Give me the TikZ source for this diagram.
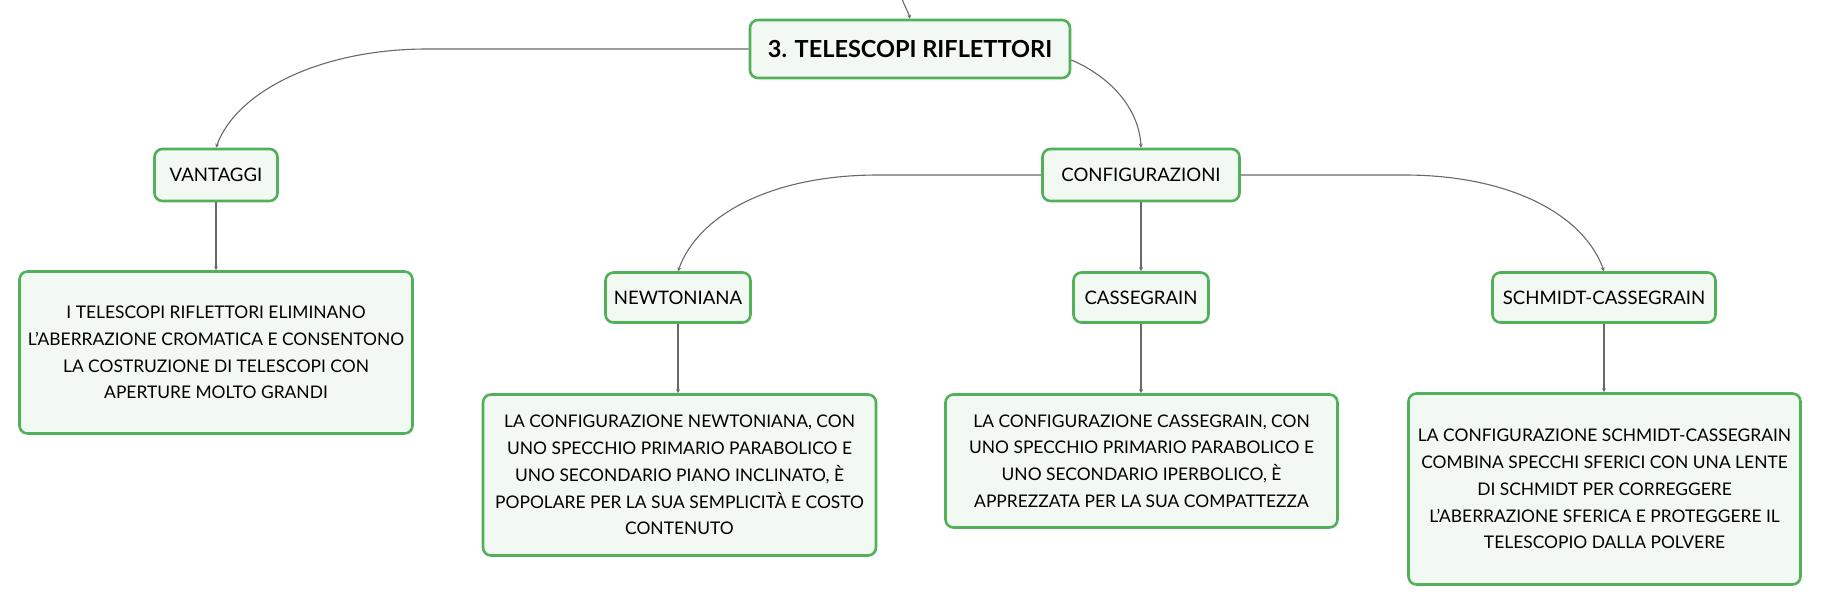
\documentclass[tikz,border=0pt]{standalone}
\usepackage{fontspec}
\setmainfont{Lato}
\usetikzlibrary{arrows.meta,calc}
\definecolor{nodegreen}{RGB}{82,176,90}
\definecolor{nodefill}{RGB}{241,249,242}
\definecolor{linegrey}{RGB}{105,105,105}
\tikzset{
  box/.style={draw=nodegreen, line width=2.6pt, fill=nodefill, rounded corners=8pt,
    align=center, inner sep=0pt, font=\fontsize{17.4}{26.8}\selectfont},
  labelbox/.style={box, font=\fontsize{18.6}{22}\selectfont},
  conn/.style={draw=linegrey, line width=1.1pt, -{Stealth[length=4pt,width=4pt]}},
}
\begin{document}
\begin{tikzpicture}[x=1pt,y=-1pt]
\useasboundingbox (0,0) rectangle (1821,605);
% nodes
\node[box, minimum width=320pt, minimum height=58pt, font=\fontsize{23.5}{28}\selectfont\bfseries] (title) at (910,49) {3. TELESCOPI RIFLETTORI};
\node[labelbox, minimum width=123pt, minimum height=52pt] (vant) at (216,175) {VANTAGGI};
\node[labelbox, minimum width=197pt, minimum height=52pt] (config) at (1141,175) {CONFIGURAZIONI};
\node[box, minimum width=393pt, minimum height=162pt] (vtext) at (216,352.5) {I TELESCOPI RIFLETTORI ELIMINANO\\L'ABERRAZIONE CROMATICA E CONSENTONO\\LA COSTRUZIONE DI TELESCOPI CON\\APERTURE MOLTO GRANDI};
\node[labelbox, minimum width=145pt, minimum height=50pt] (newt) at (678,297.5) {NEWTONIANA};
\node[labelbox, minimum width=135pt, minimum height=50pt] (cass) at (1141,297.5) {CASSEGRAIN};
\node[labelbox, minimum width=223pt, minimum height=50pt] (schm) at (1604,297.5) {SCHMIDT-CASSEGRAIN};
\node[box, minimum width=393pt, minimum height=161pt] (ntext) at (679.5,475) {LA CONFIGURAZIONE NEWTONIANA, CON\\UNO SPECCHIO PRIMARIO PARABOLICO E\\UNO SECONDARIO PIANO INCLINATO, È\\POPOLARE PER LA SUA SEMPLICITÀ E COSTO\\CONTENUTO};
\node[box, minimum width=392pt, minimum height=133pt] (ctext) at (1141.5,461) {LA CONFIGURAZIONE CASSEGRAIN, CON\\UNO SPECCHIO PRIMARIO PARABOLICO E\\UNO SECONDARIO IPERBOLICO, È\\APPREZZATA PER LA SUA COMPATTEZZA};
\node[box, minimum width=392pt, minimum height=191pt] (stext) at (1604.5,489) {LA CONFIGURAZIONE SCHMIDT-CASSEGRAIN\\COMBINA SPECCHI SFERICI CON UNA LENTE\\DI SCHMIDT PER CORREGGERE\\L'ABERRAZIONE SFERICA E PROTEGGERE IL\\TELESCOPIO DALLA POLVERE};
% connectors
\coordinate (topin) at (902,-2);
\draw[conn] (topin) .. controls +(2,8) and +(-2,-8) .. (title.north);
\draw[conn] (title.west) -- ([xshift=211pt]vant.north |- title.west)
  .. controls +(-107,0) and +(20,-56) .. (vant.north);
\draw[conn] ([yshift=-11pt]title.east) .. controls +(38,16) and +(-2,-40) .. (config.north);
\draw[conn] (config.west) -- ([xshift=200pt]newt.north |- config.west)
  .. controls +(-107,0) and +(20,-56) .. (newt.north);
\draw[conn] (config.south) -- (cass.north);
\draw[conn] (config.east) -- ([xshift=-200pt]schm.north |- config.east)
  .. controls +(107,0) and +(-20,-56) .. (schm.north);
\draw[conn] (vant.south) -- (vtext.north);
\draw[conn] (newt.south) -- (newt.south |- ntext.north);
\draw[conn] (cass.south) -- (cass.south |- ctext.north);
\draw[conn] (schm.south) -- (schm.south |- stext.north);
\end{tikzpicture}
\end{document}
